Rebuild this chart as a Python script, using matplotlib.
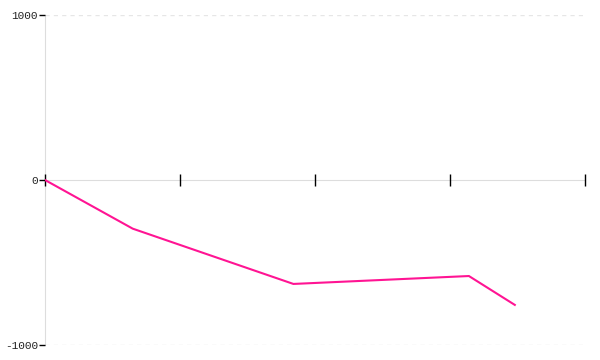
import matplotlib
matplotlib.use('Agg')
import matplotlib.pyplot as plt

# values
x_vals = [0, 65, 184, 314, 348]
y_vals = [0, -295, -630, -582, -757]
y_ticks = [-1000, 0, 1000]
x_ticks = [0, 100, 200, 300, 400]

fig = plt.figure(figsize=(6, 3.6), dpi=100)
ax = fig.add_axes([0.075, 0.0417, 0.9, 0.9166])

ax.plot(x_vals, y_vals, color='#ff1493', lw=1.5, solid_joinstyle='miter', zorder=3)

ax.set_xlim(0, 400)
ax.set_ylim(-1000, 1000)

# dashed grid at the ends of the y range
for yv in (-1000, 1000):
    ax.axhline(yv, color='#e6e6e6', lw=1, ls=(0, (3, 3)), zorder=0)

ax.spines['top'].set_visible(False)
ax.spines['right'].set_visible(False)
for s in ('left', 'bottom'):
    ax.spines[s].set_color('#dddddd')
    ax.spines[s].set_zorder(0.5)
ax.spines['bottom'].set_position(('data', 0))

ax.set_yticks(y_ticks)
ax.set_yticklabels([str(v) for v in y_ticks],
                   family='Liberation Mono', fontsize=8, color='#222222')
ax.tick_params(axis='y', direction='out', length=4, width=1, color='black', pad=1)

ax.set_xticks(x_ticks)
ax.set_xticklabels([])
ax.tick_params(axis='x', direction='inout', length=8, width=1, color='black')
ax.xaxis.set_zorder(2.6)
ax.yaxis.set_zorder(2.6)

fig.savefig('out.png', dpi=100)
